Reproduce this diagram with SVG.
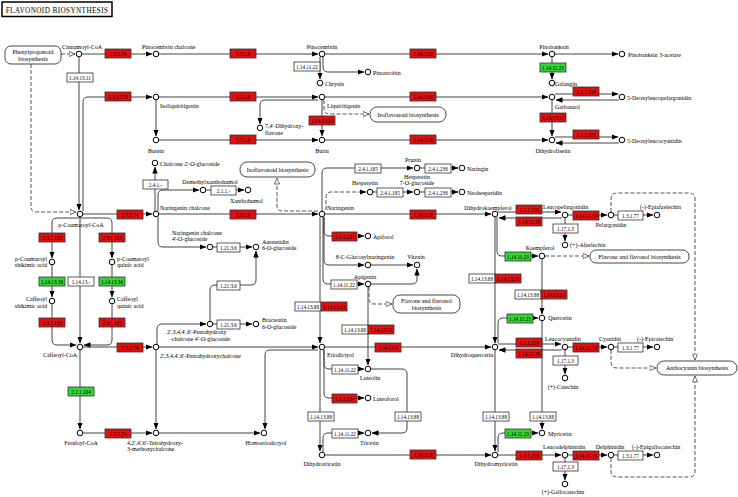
<svg xmlns="http://www.w3.org/2000/svg" width="738" height="497" viewBox="0 0 738 497">
<style>
.t{font-family:"Liberation Serif","Times New Roman",serif;font-size:6px;fill:#000}
.m{text-anchor:middle}
.e text{font-family:"Liberation Serif","Times New Roman",serif;font-size:5.2px;text-anchor:middle;fill:#000}
.e rect{stroke:#333;stroke-width:0.8}
.r rect{fill:#e01010}
.g rect{fill:#33d633}
.w rect{fill:#fff}
.c{fill:#fff;stroke:#000;stroke-width:1}
.l{fill:none;stroke:#444;stroke-width:1;marker-end:url(#a)}
.d{fill:none;stroke:#555;stroke-width:1;stroke-dasharray:4 2}
.dh{marker-end:url(#h)}
.da{marker-end:url(#a)}
.mb rect{fill:#fff;stroke:#333;stroke-width:0.9}
.mb text{font-family:"Liberation Serif","Times New Roman",serif;font-size:6px;text-anchor:middle}
</style>
<defs>
<marker id="a" markerUnits="userSpaceOnUse" markerWidth="7" markerHeight="6" refX="6.5" refY="3" orient="auto" viewBox="0 0 7 6"><path d="M0,0.3 L7,3 L0,5.7z" fill="#000"/></marker>
<marker id="h" markerUnits="userSpaceOnUse" markerWidth="7" markerHeight="6" refX="6.5" refY="3" orient="auto" viewBox="0 0 7 6"><path d="M0.5,0.5 L6.5,3 L0.5,5.5z" fill="#fff" stroke="#444" stroke-width="0.8"/></marker>
</defs>
<rect width="738" height="497" fill="#fff"/>
<g id="title"><rect x="2" y="2" width="110" height="14.5" fill="#fff" stroke="#000" stroke-width="1.5"/><text x="57" y="12.5" text-anchor="middle" font-family="Liberation Serif, serif" font-size="7.2" letter-spacing="0.4">FLAVONOID BIOSYNTHESIS</text></g>

<g id="connectors">
<path class="l" d="M82,54 H152"/>
<path class="l" d="M159,54 H318"/>
<path class="l" d="M325,54 H548"/>
<path class="l" d="M555,54 H618"/>
<path class="l" d="M320,57 V79"/>
<path class="l" d="M323,57 V67 Q323,72 328,72 H364"/>
<path class="l" d="M552,57 V79"/>
<path class="l" d="M83,211 V102 Q83,97 88,97 H152"/>
<path class="l" d="M159,97 H318"/>
<path class="l" d="M325,97 H548"/>
<path class="l" d="M156,100 V136"/>
<path class="l" d="M318,100 H265 Q260,100 260,105 V124"/>
<path class="l" d="M322,100 V136"/>
<path class="l" d="M552,100 V136"/>
<path class="l" d="M555,94 H618"/>
<path class="l" d="M619,100 H556"/>
<path class="l" d="M159,140 H318"/>
<path class="l" d="M325,140 H548"/>
<path class="l" d="M555,137 H618"/>
<path class="l" d="M619,143 H556"/>
<path class="l" d="M79,57 V210"/>
<path class="l" d="M83,214 H152"/>
<path class="l" d="M159,214 H318"/>
<path class="l" d="M155,211 V167"/>
<path class="l" d="M158,211 V195 Q158,190 163,190 H199"/>
<path class="l" d="M158,217 V242 Q158,247 163,247 H206"/>
<path class="l" d="M206,190 H244"/>
<path class="l" d="M213,247 H252"/>
<path class="l" d="M210,321 V290 Q210,285 215,285 H251 Q256,285 256,280 V251"/>
<path class="l" d="M213,324 H252"/>
<path class="l" d="M157,344 V329 Q157,324 162,324 H206"/>
<path class="l" d="M80,218 H57 Q52,218 52,223 V258"/>
<path class="l" d="M80,218 H107 Q112,218 112,223 V258"/>
<path class="l" d="M52,265 V297"/>
<path class="l" d="M112,265 V297"/>
<path class="l" d="M52,304 V340 Q52,345 57,345 H76"/>
<path class="l" d="M112,304 V340 Q112,345 107,345 H84"/>
<path class="l" d="M80,217 V343"/>
<path class="l" d="M83,347 H152"/>
<path class="l" d="M80,350 V429"/>
<path class="l" d="M83,433 H152"/>
<path class="l" d="M156,350 V429"/>
<path class="l" d="M159,347 H318"/>
<path class="l" d="M159,433 H260"/>
<path class="l" d="M318,350 H270 Q265,350 265,355 V429"/>
<path class="l" d="M322,211 V173 Q322,168 327,168 H413"/>
<path class="l" d="M420,168 H458"/>
<path class="l" d="M373,192 H413"/>
<path class="l" d="M420,192 H458"/>
<path class="l" d="M325,214 H491"/>
<path class="l" d="M324,217 V231 Q324,236 329,236 H364"/>
<path class="l" d="M324,217 V260 Q324,265 329,265 H364"/>
<path class="l" d="M371,265 H413"/>
<path class="l" d="M323,217 V279 Q323,284 328,284 H364"/>
<path class="l" d="M371,284 H412 Q417,284 417,279 V269"/>
<path class="l" d="M368,287 V365"/>
<path class="l" d="M320,217 V343"/>
<path class="l" d="M324,350 V364 Q324,369 329,369 H364"/>
<path class="l" d="M324,350 V393 Q324,398 329,398 H364"/>
<path class="l" d="M320,350 V451"/>
<path class="l" d="M323,452 V438 Q323,433 328,433 H364"/>
<path class="l" d="M371,369 H402 Q407,369 407,374 V428 Q407,433 402,433 H372"/>
<path class="l" d="M325,455 H491"/>
<path class="l" d="M325,347 H491"/>
<path class="l" d="M495,217 V343"/>
<path class="l" d="M497,217 V251 Q497,256 502,256 H538"/>
<path class="l" d="M542,259 V314"/>
<path class="l" d="M498,343 V323 Q498,318 503,318 H538"/>
<path class="l" d="M542,321 V429"/>
<path class="l" d="M495,350 V451"/>
<path class="l" d="M498,452 V438 Q498,433 503,433 H538"/>
<path class="l" d="M498,212 H561"/>
<path class="l" d="M562,218 H499"/>
<path class="l" d="M568,215 H607"/>
<path class="l" d="M614,215 H653"/>
<path class="l" d="M565,218 V241"/>
<path class="l" d="M498,344 H561"/>
<path class="l" d="M562,350 H499"/>
<path class="l" d="M568,347 H607"/>
<path class="l" d="M614,347 H653"/>
<path class="l" d="M565,350 V374"/>
<path class="l" d="M498,455 H561"/>
<path class="l" d="M568,455 H607"/>
<path class="l" d="M614,455 H653"/>
<path class="l" d="M565,458 V480"/>
<path class="d dh" d="M61,54 H75"/>
<path class="d dh" d="M31,64 V207 Q31,212 36,212 H76"/>
<path class="d dh" d="M324,100 V108 Q324,114 330,114 H369"/>
<path class="d dh" d="M318,211 H282 Q277,211 277,206 V178"/>
<path class="d da" d="M326,210 V197 Q326,192 331,192 H366"/>
<path class="d dh" d="M369,287 V299 Q369,304 374,304 H392"/>
<path class="d dh" d="M545,256 H589"/>
<path class="d dh" d="M611,212 V199 Q611,193 617,193 H689 Q695,193 695,199 V360"/>
<path class="d dh" d="M611,350 V362 Q611,368 617,368 H656"/>
<path class="d dh" d="M611,458 V471 Q611,477 617,477 H689 Q695,477 695,471 V376"/>
</g>

<g id="maps">
<g id="map_phenylpropanoid" class="mb"><rect x="5" y="46" width="56" height="18" rx="6"/><text x="33" y="54">Phenylpropanoid</text><text x="33" y="61">biosynthesis</text></g>
<g id="map_isoflavonoid1" class="mb"><rect x="370" y="107" width="76" height="15" rx="7"/><text x="408" y="116.5">Isoflavonoid biosynthesis</text></g>
<g id="map_isoflavonoid2" class="mb"><rect x="240" y="162" width="75" height="15" rx="7"/><text x="277.5" y="171.5">Isoflavonoid biosynthesis</text></g>
<g id="map_flavone1" class="mb"><rect x="393" y="295" width="67" height="18" rx="7"/><text x="426.5" y="302.5">Flavone and flavonol</text><text x="426.5" y="309.5">biosynthesis</text></g>
<g id="map_flavone2" class="mb"><rect x="590" y="250" width="99" height="13" rx="6"/><text x="639.5" y="258.5">Flavone and flavonol biosynthesis</text></g>
<g id="map_anthocyanin" class="mb"><rect x="657" y="361" width="80" height="14" rx="7"/><text x="697" y="370">Anthocyanin biosynthesis</text></g>
</g>

<g id="enzymes">
<g id="e1" class="e r"><rect x="105" y="49" width="26" height="9"/><text x="118" y="55.8">2.3.1.74</text></g>
<g id="e2" class="e r"><rect x="230" y="49" width="26" height="9"/><text x="243" y="55.8">5.5.1.6</text></g>
<g id="e3" class="e r"><rect x="410" y="49" width="26" height="9"/><text x="423" y="55.8">1.14.11.9</text></g>
<g id="e4" class="e w"><rect x="67" y="73" width="26" height="9"/><text x="80" y="79.8">1.14.13.11</text></g>
<g id="e5" class="e w"><rect x="294" y="62" width="26" height="9"/><text x="307" y="68.8">1.14.11.22</text></g>
<g id="e6" class="e g"><rect x="540" y="63" width="26" height="9"/><text x="553" y="69.8">1.14.11.23</text></g>
<g id="e7" class="e r"><rect x="105" y="92" width="26" height="9"/><text x="118" y="98.8">2.3.1.170</text></g>
<g id="e8" class="e r"><rect x="230" y="92" width="26" height="9"/><text x="243" y="98.8">5.5.1.6</text></g>
<g id="e9" class="e r"><rect x="410" y="92" width="26" height="9"/><text x="423" y="98.8">1.14.11.9</text></g>
<g id="e10" class="e r"><rect x="309" y="116" width="26" height="9"/><text x="322" y="122.8">1.14.13.21</text></g>
<g id="e11" class="e r"><rect x="540" y="113" width="26" height="9"/><text x="553" y="119.8">1.14.13.21</text></g>
<g id="e12" class="e r"><rect x="573" y="87" width="26" height="9"/><text x="586" y="93.8">1.1.1.219</text></g>
<g id="e13" class="e r"><rect x="230" y="135" width="26" height="9"/><text x="243" y="141.8">5.5.1.6</text></g>
<g id="e14" class="e r"><rect x="410" y="135" width="26" height="9"/><text x="423" y="141.8">1.14.11.9</text></g>
<g id="e15" class="e r"><rect x="573" y="130" width="26" height="9"/><text x="586" y="136.8">1.1.1.219</text></g>
<g id="e16" class="e w"><rect x="143" y="180" width="25" height="9"/><text x="155.5" y="186.8">2.4.1.-</text></g>
<g id="e17" class="e w"><rect x="211" y="186" width="25" height="9"/><text x="223.5" y="192.8">2.1.1.-</text></g>
<g id="e18" class="e r"><rect x="117" y="210" width="26" height="9"/><text x="130" y="216.8">2.3.1.74</text></g>
<g id="e19" class="e r"><rect x="230" y="210" width="26" height="9"/><text x="243" y="216.8">5.5.1.6</text></g>
<g id="e20" class="e w"><rect x="355" y="164" width="26" height="9"/><text x="368" y="170.8">2.4.1.185</text></g>
<g id="e21" class="e w"><rect x="425" y="164" width="26" height="9"/><text x="438" y="170.8">2.4.1.236</text></g>
<g id="e22" class="e w"><rect x="377" y="188" width="26" height="9"/><text x="390" y="194.8">2.4.1.185</text></g>
<g id="e23" class="e w"><rect x="425" y="188" width="26" height="9"/><text x="438" y="194.8">2.4.1.236</text></g>
<g id="e24" class="e r"><rect x="410" y="210" width="26" height="9"/><text x="423" y="216.8">1.14.11.9</text></g>
<g id="e25" class="e r"><rect x="516" y="205" width="26" height="9"/><text x="529" y="211.8">1.1.1.219</text></g>
<g id="e26" class="e r"><rect x="516" y="217" width="26" height="9"/><text x="529" y="223.8">1.14.11.19</text></g>
<g id="e27" class="e r"><rect x="573" y="211" width="26" height="9"/><text x="586" y="217.8">1.14.11.19</text></g>
<g id="e28" class="e w"><rect x="618" y="211" width="25" height="9"/><text x="630.5" y="217.8">1.3.1.77</text></g>
<g id="e29" class="e w"><rect x="553" y="224" width="25" height="9"/><text x="565.5" y="230.8">1.17.1.3</text></g>
<g id="e30" class="e w"><rect x="217" y="243" width="23" height="9"/><text x="228.5" y="249.8">1.21.3.6</text></g>
<g id="e31" class="e r"><rect x="332" y="232" width="25" height="9"/><text x="344.5" y="238.8">1.1.1.234</text></g>
<g id="e32" class="e g"><rect x="505" y="252" width="26" height="9"/><text x="518" y="258.8">1.14.11.23</text></g>
<g id="e33" class="e r"><rect x="39" y="233" width="26" height="9"/><text x="52" y="239.8">2.3.1.133</text></g>
<g id="e34" class="e r"><rect x="99" y="233" width="26" height="9"/><text x="112" y="239.8">2.3.1.133</text></g>
<g id="e35" class="e g"><rect x="39" y="277" width="26" height="9"/><text x="52" y="283.8">1.14.13.36</text></g>
<g id="e36" class="e w"><rect x="68" y="277" width="26" height="9"/><text x="81" y="283.8">1.14.13.-</text></g>
<g id="e37" class="e g"><rect x="99" y="277" width="26" height="9"/><text x="112" y="283.8">1.14.13.36</text></g>
<g id="e38" class="e w"><rect x="217" y="281" width="23" height="9"/><text x="228.5" y="287.8">1.21.3.6</text></g>
<g id="e39" class="e w"><rect x="331" y="280" width="26" height="9"/><text x="344" y="286.8">1.14.11.22</text></g>
<g id="e40" class="e w"><rect x="469" y="274" width="26" height="9"/><text x="482" y="280.8">1.14.13.88</text></g>
<g id="e41" class="e r"><rect x="495" y="274" width="26" height="9"/><text x="508" y="280.8">1.14.13.21</text></g>
<g id="e42" class="e w"><rect x="515" y="290" width="26" height="9"/><text x="528" y="296.8">1.14.13.88</text></g>
<g id="e43" class="e r"><rect x="541" y="290" width="26" height="9"/><text x="554" y="296.8">1.14.13.21</text></g>
<g id="e44" class="e w"><rect x="295" y="302" width="26" height="9"/><text x="308" y="308.8">1.14.13.88</text></g>
<g id="e45" class="e r"><rect x="321" y="302" width="26" height="9"/><text x="334" y="308.8">1.14.13.21</text></g>
<g id="e46" class="e g"><rect x="507" y="314" width="26" height="9"/><text x="520" y="320.8">1.14.11.23</text></g>
<g id="e47" class="e r"><rect x="39" y="318" width="26" height="9"/><text x="52" y="324.8">2.3.1.133</text></g>
<g id="e48" class="e r"><rect x="99" y="318" width="26" height="9"/><text x="112" y="324.8">2.3.1.133</text></g>
<g id="e49" class="e w"><rect x="217" y="320" width="23" height="9"/><text x="228.5" y="326.8">1.21.3.6</text></g>
<g id="e50" class="e w"><rect x="342" y="325" width="26" height="9"/><text x="355" y="331.8">1.14.13.88</text></g>
<g id="e51" class="e r"><rect x="368" y="325" width="26" height="9"/><text x="381" y="331.8">1.14.13.21</text></g>
<g id="e52" class="e r"><rect x="117" y="343" width="26" height="9"/><text x="130" y="349.8">2.3.1.74</text></g>
<g id="e53" class="e r"><rect x="375" y="343" width="26" height="9"/><text x="388" y="349.8">1.14.11.9</text></g>
<g id="e54" class="e r"><rect x="516" y="338" width="26" height="9"/><text x="529" y="344.8">1.1.1.219</text></g>
<g id="e55" class="e r"><rect x="516" y="349" width="26" height="9"/><text x="529" y="355.8">1.14.11.19</text></g>
<g id="e56" class="e r"><rect x="573" y="343" width="26" height="9"/><text x="586" y="349.8">1.14.11.19</text></g>
<g id="e57" class="e w"><rect x="618" y="343" width="25" height="9"/><text x="630.5" y="349.8">1.3.1.77</text></g>
<g id="e58" class="e w"><rect x="553" y="356" width="25" height="9"/><text x="565.5" y="362.8">1.17.1.3</text></g>
<g id="e59" class="e w"><rect x="332" y="365" width="26" height="9"/><text x="345" y="371.8">1.14.11.22</text></g>
<g id="e60" class="e g"><rect x="68" y="387" width="26" height="9"/><text x="81" y="393.8">2.1.1.104</text></g>
<g id="e61" class="e r"><rect x="332" y="394" width="25" height="9"/><text x="344.5" y="400.8">1.1.1.234</text></g>
<g id="e62" class="e w"><rect x="308" y="412" width="26" height="9"/><text x="321" y="418.8">1.14.13.88</text></g>
<g id="e63" class="e w"><rect x="395" y="412" width="26" height="9"/><text x="408" y="418.8">1.14.13.88</text></g>
<g id="e64" class="e w"><rect x="483" y="412" width="26" height="9"/><text x="496" y="418.8">1.14.13.88</text></g>
<g id="e65" class="e w"><rect x="530" y="412" width="26" height="9"/><text x="543" y="418.8">1.14.13.88</text></g>
<g id="e66" class="e r"><rect x="105" y="429" width="26" height="9"/><text x="118" y="435.8">2.3.1.74</text></g>
<g id="e67" class="e w"><rect x="332" y="429" width="26" height="9"/><text x="345" y="435.8">1.14.11.22</text></g>
<g id="e68" class="e g"><rect x="505" y="429" width="26" height="9"/><text x="518" y="435.8">1.14.11.23</text></g>
<g id="e69" class="e r"><rect x="410" y="450" width="26" height="9"/><text x="423" y="456.8">1.14.11.9</text></g>
<g id="e70" class="e r"><rect x="516" y="451" width="26" height="9"/><text x="529" y="457.8">1.1.1.219</text></g>
<g id="e71" class="e r"><rect x="573" y="451" width="26" height="9"/><text x="586" y="457.8">1.14.11.19</text></g>
<g id="e72" class="e w"><rect x="618" y="451" width="25" height="9"/><text x="630.5" y="457.8">1.3.1.77</text></g>
<g id="e73" class="e w"><rect x="553" y="462" width="25" height="9"/><text x="565.5" y="468.8">1.17.1.3</text></g>
</g>

<g id="compounds">
<g id="c_cinnamoyl"><circle class="c" cx="79" cy="54" r="2.8"/><text class="t m" x="82" y="49">Cinnamoyl-CoA</text></g>
<g id="c_pinocembrin_chalcone"><circle class="c" cx="156" cy="54" r="2.8"/><text class="t" x="142" y="49">Pinocembrin chalcone</text></g>
<g id="c_pinocembrin"><circle class="c" cx="322" cy="54" r="2.8"/><text class="t m" x="322" y="49">Pinocembrin</text></g>
<g id="c_pinobanksin"><circle class="c" cx="552" cy="54" r="2.8"/><text class="t m" x="554" y="49">Pinobanksin</text></g>
<g id="c_pinobanksin3ac"><circle class="c" cx="622" cy="54" r="2.8"/><text class="t" x="628" y="56.5">Pinobanksin 3-acetate</text></g>
<g id="c_chrysin"><circle class="c" cx="320" cy="83" r="2.8"/><text class="t" x="325" y="85.5">Chrysin</text></g>
<g id="c_pinostrobin"><circle class="c" cx="368" cy="72" r="2.8"/><text class="t" x="373" y="74.5">Pinostrobin</text></g>
<g id="c_galangin"><circle class="c" cx="552" cy="83" r="2.8"/><text class="t" x="555" y="85.5">Galangin</text></g>
<g id="c_isoliquiritigenin"><circle class="c" cx="156" cy="97" r="2.8"/><text class="t" x="160" y="108">Isoliquiritigenin</text></g>
<g id="c_liquiritigenin"><circle class="c" cx="322" cy="97" r="2.8"/><text class="t" x="327" y="108">Liquiritigenin</text></g>
<g id="c_garbanzol"><circle class="c" cx="552" cy="97" r="2.8"/><text class="t" x="555" y="109">Garbanzol</text></g>
<g id="c_5dlp"><circle class="c" cx="622" cy="97" r="2.8"/><text class="t" x="627" y="99.5">5-Deoxyleucopelargonidin</text></g>
<g id="c_74dhf"><circle class="c" cx="260" cy="128" r="2.8"/><text class="t" x="265" y="128">7,4'-Dihydroxy-</text><text class="t" x="265" y="135">flavone</text></g>
<g id="c_butein"><circle class="c" cx="156" cy="140" r="2.8"/><text class="t m" x="156" y="152.5">Butein</text></g>
<g id="c_butin"><circle class="c" cx="322" cy="140" r="2.8"/><text class="t m" x="322" y="152.5">Butin</text></g>
<g id="c_dihydrofisetin"><circle class="c" cx="552" cy="140" r="2.8"/><text class="t m" x="553" y="152.5">Dihydrofisetin</text></g>
<g id="c_5dlc"><circle class="c" cx="622" cy="140" r="2.8"/><text class="t" x="627" y="142.5">5-Deoxyleucocyanidin</text></g>
<g id="c_chalcone2og"><circle class="c" cx="155" cy="163" r="2.8"/><text class="t" x="160" y="165.5">Chalcone 2'-O-glucoside</text></g>
<g id="c_demethylxanthohumol"><circle class="c" cx="203" cy="190" r="2.8"/><text class="t m" x="210" y="184">Demethylxanthohumol</text></g>
<g id="c_xanthohumol"><circle class="c" cx="248" cy="190" r="2.8"/><text class="t" x="230" y="202.5">Xanthohumol</text></g>
<g id="c_naringenin_chalcone"><circle class="c" cx="156" cy="214" r="2.8"/><text class="t" x="160" y="209.5">Naringenin chalcone</text></g>
<g id="c_nc4og"><circle class="c" cx="210" cy="247" r="2.8"/><text class="t" x="172" y="234.5">Naringenin chalcone</text><text class="t" x="172" y="241">4'-O-glucoside</text></g>
<g id="c_aureusidin"><circle class="c" cx="256" cy="247" r="2.8"/><text class="t" x="262" y="243.5">Aureusidin</text><text class="t" x="262" y="250">6-O-glucoside</text></g>
<g id="c_naringenin"><circle class="c" cx="322" cy="214" r="2.8"/><text class="t" x="327" y="209.5">Naringenin</text></g>
<g id="c_prunin"><circle class="c" cx="417" cy="168" r="2.8"/><text class="t m" x="413" y="162">Prunin</text></g>
<g id="c_naringin"><circle class="c" cx="462" cy="168" r="2.8"/><text class="t" x="467" y="170.5">Naringin</text></g>
<g id="c_hesperetin"><circle class="c" cx="370" cy="192" r="2.8"/><text class="t" x="352" y="185">Hesperetin</text></g>
<g id="c_hesperetin7og"><circle class="c" cx="417" cy="192" r="2.8"/><text class="t m" x="417" y="178.5">Hesperetin</text><text class="t m" x="417" y="185">7-O-glucoside</text></g>
<g id="c_neohesperidin"><circle class="c" cx="462" cy="192" r="2.8"/><text class="t" x="467" y="194.5">Neohesperidin</text></g>
<g id="c_apiforol"><circle class="c" cx="368" cy="236" r="2.8"/><text class="t" x="373" y="238.5">Apiforol</text></g>
<g id="c_8cgn"><circle class="c" cx="368" cy="265" r="2.8"/><text class="t m" x="365" y="258.5">8-C-Glucosylnaringenin</text></g>
<g id="c_vitexin"><circle class="c" cx="417" cy="265" r="2.8"/><text class="t m" x="416" y="258.5">Vitexin</text></g>
<g id="c_apigenin"><circle class="c" cx="368" cy="284" r="2.8"/><text class="t m" x="365" y="279">Apigenin</text></g>
<g id="c_dihydrokaempferol"><circle class="c" cx="495" cy="214" r="2.8"/><text class="t m" x="488" y="209.5">Dihydrokaempferol</text></g>
<g id="c_leucopelargonidin"><circle class="c" cx="565" cy="215" r="2.8"/><text class="t" x="543" y="209">Leucopelargonidin</text></g>
<g id="c_pelargonidin"><circle class="c" cx="611" cy="215" r="2.8"/><text class="t m" x="611" y="227">Pelargonidin</text></g>
<g id="c_epiafzelechin"><circle class="c" cx="657" cy="215" r="2.8"/><text class="t" x="640" y="209">(-)-Epiafzelechin</text></g>
<g id="c_afzelechin"><circle class="c" cx="565" cy="245" r="2.8"/><text class="t" x="570" y="247">(+)-Afzelechin</text></g>
<g id="c_kaempferol"><circle class="c" cx="542" cy="256" r="2.8"/><text class="t m" x="540" y="250">Kaempferol</text></g>
<g id="c_quercetin"><circle class="c" cx="542" cy="318" r="2.8"/><text class="t" x="548" y="320">Quercetin</text></g>
<g id="c_pcoumaroylcoa"><circle class="c" cx="80" cy="214" r="2.8"/><text class="t m" x="81" y="227">p-Coumaroyl-CoA</text></g>
<g id="c_pcs"><circle class="c" cx="52" cy="262" r="2.8"/><text class="t" x="47" y="260.5" text-anchor="end">p-Coumaroyl</text><text class="t" x="47" y="267" text-anchor="end">shikimic acid</text></g>
<g id="c_pcq"><circle class="c" cx="112" cy="262" r="2.8"/><text class="t" x="117" y="260.5">p-Coumaroyl</text><text class="t" x="117" y="267">quinic acid</text></g>
<g id="c_cs"><circle class="c" cx="52" cy="301" r="2.8"/><text class="t" x="47" y="301" text-anchor="end">Caffeoyl</text><text class="t" x="47" y="307.5" text-anchor="end">shikimic acid</text></g>
<g id="c_cq"><circle class="c" cx="112" cy="301" r="2.8"/><text class="t" x="117" y="301">Caffeoyl</text><text class="t" x="117" y="307.5">quinic acid</text></g>
<g id="c_caffeoylcoa"><circle class="c" cx="80" cy="347" r="2.8"/><text class="t m" x="60" y="357">Caffeoyl-CoA</text></g>
<g id="c_pentahydroxychalcone"><circle class="c" cx="156" cy="347" r="2.8"/><text class="t" x="160" y="357.5">2',3,4,4',6'-Pentahydroxychalcone</text></g>
<g id="c_phc4og"><circle class="c" cx="210" cy="324" r="2.8"/><text class="t" x="167" y="334">2',3,4,4',6'-Pentahydroxy</text><text class="t" x="170" y="340.5">-chalcone 4'-O-glucoside</text></g>
<g id="c_bracteatin"><circle class="c" cx="256" cy="324" r="2.8"/><text class="t" x="262" y="322">Bracteatin</text><text class="t" x="262" y="328.5">6-O-glucoside</text></g>
<g id="c_eriodictyol"><circle class="c" cx="322" cy="347" r="2.8"/><text class="t" x="327" y="357">Eriodictyol</text></g>
<g id="c_dihydroquercetin"><circle class="c" cx="495" cy="347" r="2.8"/><text class="t m" x="472" y="357">Dihydroquercetin</text></g>
<g id="c_leucocyanidin"><circle class="c" cx="565" cy="347" r="2.8"/><text class="t" x="545" y="341">Leucocyanidin</text></g>
<g id="c_cyanidin"><circle class="c" cx="611" cy="347" r="2.8"/><text class="t m" x="610" y="341">Cyanidin</text></g>
<g id="c_epicatechin"><circle class="c" cx="657" cy="347" r="2.8"/><text class="t" x="637" y="341">(-)-Epicatechin</text></g>
<g id="c_catechin"><circle class="c" cx="565" cy="378" r="2.8"/><text class="t m" x="563" y="389">(+)-Catechin</text></g>
<g id="c_feruloylcoa"><circle class="c" cx="80" cy="433" r="2.8"/><text class="t m" x="81" y="445">Feruloyl-CoA</text></g>
<g id="c_thmc"><circle class="c" cx="156" cy="433" r="2.8"/><text class="t" x="127" y="444.5">4,2',4',6'-Tetrahydroxy-</text><text class="t" x="127" y="451">3-methoxychalcone</text></g>
<g id="c_homoeriodictyol"><circle class="c" cx="264" cy="433" r="2.8"/><text class="t m" x="266" y="445">Homoeriodictyol</text></g>
<g id="c_luteolin"><circle class="c" cx="368" cy="369" r="2.8"/><text class="t" x="360" y="380">Luteolin</text></g>
<g id="c_luteoforol"><circle class="c" cx="368" cy="398" r="2.8"/><text class="t" x="373" y="400.5">Luteoforol</text></g>
<g id="c_tricetin"><circle class="c" cx="368" cy="433" r="2.8"/><text class="t" x="360" y="444.5">Tricetin</text></g>
<g id="c_dihydrotricetin"><circle class="c" cx="322" cy="455" r="2.8"/><text class="t m" x="322" y="466">Dihydrotricetin</text></g>
<g id="c_dihydromyricetin"><circle class="c" cx="495" cy="455" r="2.8"/><text class="t m" x="496" y="466">Dihydromyricetin</text></g>
<g id="c_myricetin"><circle class="c" cx="542" cy="433" r="2.8"/><text class="t" x="548" y="435.5">Myricetin</text></g>
<g id="c_leucodelphinidin"><circle class="c" cx="565" cy="455" r="2.8"/><text class="t" x="543" y="449">Leucodelphinidin</text></g>
<g id="c_delphinidin"><circle class="c" cx="611" cy="455" r="2.8"/><text class="t m" x="610" y="449">Delphinidin</text></g>
<g id="c_epigallocatechin"><circle class="c" cx="657" cy="455" r="2.8"/><text class="t" x="632" y="449">(-)-Epigallocatechin</text></g>
<g id="c_gallocatechin"><circle class="c" cx="565" cy="484" r="2.8"/><text class="t m" x="563" y="494">(+)-Gallocatechin</text></g>
</g>
</svg>
